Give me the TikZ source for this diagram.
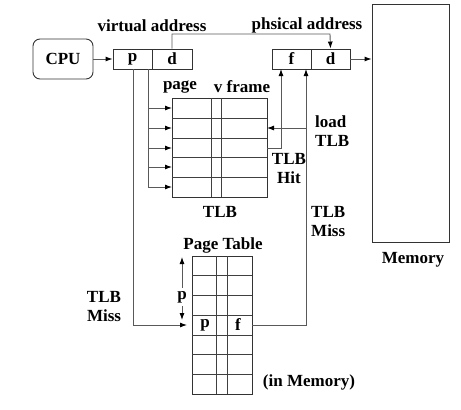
\documentclass[tikz,border=0pt]{standalone}
\usepackage{fontspec}
\setmainfont{Liberation Serif}
\usetikzlibrary{arrows.meta}
\begin{document}
\begin{tikzpicture}[x=1pt,y=-1pt,
  every node/.style={font=\fontsize{17}{19}\selectfont\bfseries, inner sep=0pt},
  box/.style={draw=black!80, line width=0.9pt},
  cell/.style={box, minimum height=20pt},
  conn/.style={draw=black!65, line width=0.9pt},
  arr/.style={conn, -{Latex[length=7pt,width=5pt,black]}},
  lbl/.style={align=center},
  lbll/.style={align=left, anchor=west},
  grid/.style={draw=black!75, line width=0.8pt}]
\useasboundingbox (0,0) rectangle (461,410);

% CPU
\node[box, rounded corners=7pt, minimum width=60pt, minimum height=40pt] (cpu) at (63,59) {CPU};

% virtual address
\node[cell, minimum width=39pt] (vp) at (132.5,59) {p};
\node[cell, minimum width=40pt] (vd) at (172,59) {d};
\node (vlabel) at (152,26) {virtual address};

% physical address
\node[cell, minimum width=39pt] (pf) at (291.5,59) {f};
\node[cell, minimum width=39pt] (pd) at (330.5,59) {d};
\node (plabel) at (307,25) {phsical address};

% Memory
\node[box, minimum width=77pt, minimum height=238pt] (mem) at (410.5,123) {};
\node (memlabel) at (413,260) {Memory};

% TLB table
\node[box, minimum width=95pt, minimum height=99pt] (tlb) at (219.5,147.5) {};
\foreach \yy in {118,138,157.5,177} \draw[grid] (172,\yy) -- (267,\yy);
\foreach \xx in {211,221} \draw[grid] (\xx,98) -- (\xx,197);
\node (pagelbl) at (180,87) {page};
\node (vframe) at (242,87) {v frame};
\node (tlblbl) at (220,212) {TLB};

% Page table
\node[box, minimum width=60pt, minimum height=138pt] (pt) at (222,325) {};
\foreach \yy in {275.7,295.4,315.1,334.9,354.6,374.3} \draw[grid] (192,\yy) -- (252,\yy);
\foreach \xx in {216,227} \draw[grid] (\xx,256) -- (\xx,394);
\node (ptp) at (205,325) {p};
\node (ptf) at (238,325) {f};
\node (ptlbl) at (223,245) {Page Table};
\node (inmem) at (309,382) {(in Memory)};

% p offset double arrow
\node (poff) at (182,297) {p};
\draw[arr] (poff.north) ++(0,-3) -- (182,257);
\draw[arr] (poff.south) ++(0,3) -- (182,320);

% connectors
\draw[arr] (cpu.east) -- (vp.west);
\draw[arr] (vd.north) |- (330,34) -- (pd.north);
\draw[arr] (pd.east) -- (mem.west |- pd.east);

% p -> TLB rows
\coordinate (pb) at (148,69);
\draw[conn] (pb) -- (148,187);
\foreach \yy in {108,128,148,167,187} \draw[arr] (148,\yy) -- (172,\yy);

% TLB miss path
\coordinate (pa) at (133,69);
\draw[arr] (pa) |- (187,325);

% TLB hit
\draw[arr] (267,148) -- (281,148) -- (281,69);

% page table f -> phys f, load TLB
\draw[arr] (252,325) -- (306,325) -- (306,69);
\draw[arr] (306,128) -- (267,128);

% labels
\node[lbll] (loadlbl) at (315,131) {load\\TLB};
\node[lbl] (hitlbl) at (289,169) {TLB\\Hit};
\node[lbll] (miss1) at (311,222) {TLB\\Miss};
\node[lbl] (miss2) at (104,307) {TLB\\Miss};
\end{tikzpicture}
\end{document}
